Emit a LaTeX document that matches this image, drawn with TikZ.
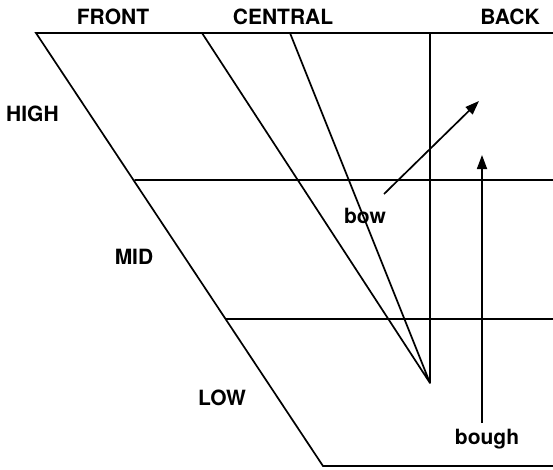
\documentclass[tikz,border=0pt]{standalone}
\usepackage{fontspec}
\setmainfont{TeX Gyre Heros}
\usetikzlibrary{arrows.meta}
\begin{document}
\begin{tikzpicture}[x=1pt,y=-1pt,
  ln/.style={line width=1.7pt,line cap=round},
  arr/.style={line width=1.7pt,-{Triangle[length=14pt,width=10pt]}},
  lab/.style={font=\fontsize{21}{21}\selectfont\bfseries,inner sep=0pt},
  wlab/.style={font=\fontsize{21}{21}\selectfont\bfseries,inner sep=0pt}]
\useasboundingbox (0,0) rectangle (553,469);
% corner coordinates
\coordinate (tl) at (36,33);
\coordinate (tr) at (553,33);
\coordinate (d2) at (202,33);
\coordinate (d3) at (290,33);
\coordinate (vt) at (430,33);
\coordinate (apex) at (430,383);
\coordinate (m1l) at (135,180);
\coordinate (m1r) at (553,180);
\coordinate (m2l) at (226,319);
\coordinate (m2r) at (553,319);
\coordinate (bl) at (323,466);
\coordinate (br) at (553,466);
\draw[ln] (tr) -- (tl) -- (bl) -- (br);
\draw[ln] (m1l) -- (m1r);
\draw[ln] (m2l) -- (m2r);
\draw[ln] (d2) -- (apex) -- (d3);
\draw[ln] (vt) -- (apex);
% labels
\node[lab] (front) at (113,17) {FRONT};
\node[lab] (central) at (283,17) {CENTRAL};
\node[lab] (back) at (510,17) {BACK};
\node[lab,anchor=west] (high) at (6,114) {HIGH};
\node[lab] (mid) at (134,257) {MID};
\node[lab] (low) at (222,398) {LOW};
\node[wlab] (bow) at (365,216) {bow};
\node[wlab] (bough) at (487,439) {bough};
% arrows
\coordinate (bowtip) at (479,101);
\coordinate (boughtip) at (482,155);
\draw[arr] (384,194) -- (bowtip);
\draw[arr] (482,423) -- (boughtip);
\end{tikzpicture}
\end{document}
